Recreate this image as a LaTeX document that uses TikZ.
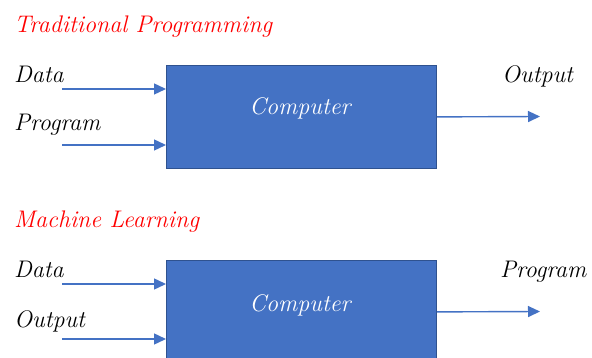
\documentclass[tikz,border=0pt]{standalone}
\usepackage{xcolor}
\usetikzlibrary{arrows.meta}
\usetikzlibrary{positioning}

\definecolor{boxblue}{HTML}{4472C4}
\definecolor{boxedge}{HTML}{2F528F}
\definecolor{headred}{HTML}{FF0000}

\begin{document}
\begin{tikzpicture}[
  x=1pt, y=-1pt,
  every node/.style={font=\fontsize{24}{27}\selectfont\itshape, inner sep=0pt},
  heading/.style={anchor=base west, text=headred},
  lbl/.style={anchor=base west},
  computer/.style={rectangle, draw=boxedge, line width=0.8pt, fill=boxblue,
    minimum width=270pt, minimum height=103pt, anchor=north west},
  flow/.style={draw=boxblue, line width=1.4pt, -{Triangle[length=12pt,width=11pt]}}
]
\useasboundingbox (0,0) rectangle (592,358);

% traditional programming
\node[heading] (head1) at (14,33) {Traditional Programming};
\node[computer] (comp1) at (166,65) {};
\node[text=white, anchor=base] (txt1) at (300,115) {Computer};
\node[lbl] (data1) at (14,83) {Data};
\node[lbl] (prog1) at (14,131) {Program};
\node[lbl] (out1) at (502,83) {Output};
\coordinate (in1a) at (62,89);
\coordinate (in1b) at (62,145);
\coordinate (end1) at (540,116.5);
\draw[flow] (in1a) -- (in1a -| comp1.west);
\draw[flow] (in1b) -- (in1b -| comp1.west);
\draw[flow] (comp1.east) -- (end1);

% machine learning
\node[heading] (head2) at (14,228) {Machine Learning};
\node[computer] (comp2) at (166,260) {};
\node[text=white, anchor=base] (txt2) at (300,312) {Computer};
\node[lbl] (data2) at (14,277) {Data};
\node[lbl] (out2) at (14,327) {Output};
\node[lbl] (prog2) at (500,277) {Program};
\coordinate (in2a) at (62,284);
\coordinate (in2b) at (62,339);
\coordinate (end2) at (540,311.5);
\draw[flow] (in2a) -- (in2a -| comp2.west);
\draw[flow] (in2b) -- (in2b -| comp2.west);
\draw[flow] (comp2.east) -- (end2);
\end{tikzpicture}
\end{document}
